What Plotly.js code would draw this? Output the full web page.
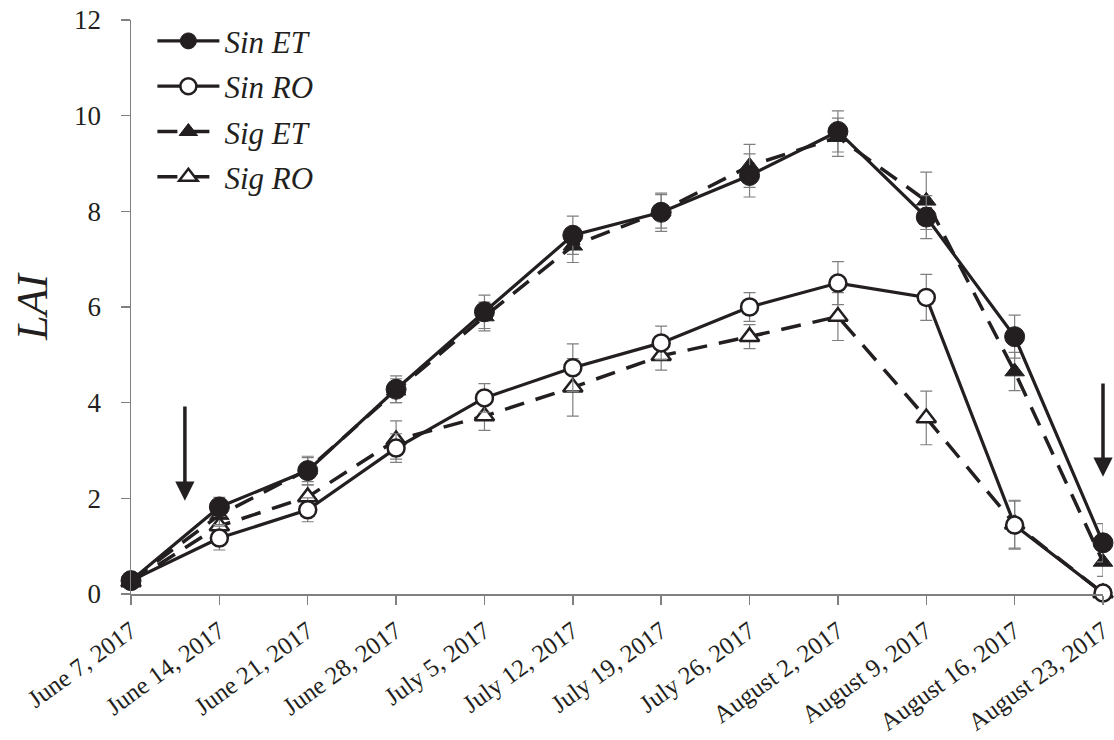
<!DOCTYPE html>
<html>
<head>
<meta charset="utf-8">
<script src="https://cdn.plot.ly/plotly-3.0.1.min.js"></script>
<style>html,body{margin:0;padding:0;background:#fff;}#chart{width:1114px;height:740px;}</style>
</head>
<body>
<div id="chart"></div>
<script>
var dates = ["June 7, 2017","June 14, 2017","June 21, 2017","June 28, 2017","July 5, 2017","July 12, 2017","July 19, 2017","July 26, 2017","August 2, 2017","August 9, 2017","August 16, 2017","August 23, 2017"];
var sinET = [0.28, 1.82, 2.58, 4.28, 5.90, 7.50, 7.98, 8.75, 9.67, 7.88, 5.38, 1.07];
var sinETerr = [0.05, 0.20, 0.30, 0.28, 0.35, 0.40, 0.40, 0.45, 0.43, 0.45, 0.45, 0.40];
var sinRO = [0.28, 1.17, 1.76, 3.05, 4.10, 4.73, 5.25, 6.00, 6.50, 6.20, 1.44, 0.02];
var sinROerr = [0.05, 0.25, 0.25, 0.30, 0.30, 0.50, 0.35, 0.30, 0.45, 0.48, 0.50, 0.05];
var sigET = [0.28, 1.65, 2.60, 4.25, 5.80, 7.28, 8.00, 8.95, 9.55, 8.22, 4.65, 0.67];
var sigETerr = [0.05, 0.20, 0.25, 0.25, 0.30, 0.35, 0.35, 0.45, 0.40, 0.60, 0.40, 0.30];
var sigRO = [0.25, 1.42, 2.03, 3.22, 3.72, 4.32, 4.98, 5.38, 5.80, 3.68, 1.46, 0.02];
var sigROerr = [0.05, 0.20, 0.25, 0.40, 0.30, 0.60, 0.30, 0.25, 0.50, 0.56, 0.50, 0.05];
var arrowsX = [0.61, 11];
var arrowsTop = [3.95, 4.43];
var arrowsTip = [1.95, 2.45];

var ink = '#231f20';
var serif = 'Liberation Serif';
function errBar(arr){return {type:'data', array:arr, visible:true, color:'#7f7f7f', thickness:1.2, width:6};}
var traces = [
  {name:'Sig RO', x:dates, y:sigRO, error_y:errBar(sigROerr), mode:'lines+markers', legendrank:4, legendgroup:'d',
   line:{color:ink, width:3.5, dash:'20px,12px'}, marker:{symbol:'triangle-up', size:17, color:'#fff', line:{color:ink, width:2.5}}},
  {name:'Sig ET', x:dates, y:sigET, error_y:errBar(sigETerr), mode:'lines+markers', legendrank:3, legendgroup:'c',
   line:{color:ink, width:3.5, dash:'20px,12px'}, marker:{symbol:'triangle-up', size:17, color:ink, line:{color:ink, width:1}}},
  {name:'Sin RO', x:dates, y:sinRO, error_y:errBar(sinROerr), mode:'lines+markers', legendrank:2, legendgroup:'b',
   line:{color:ink, width:3.2}, marker:{symbol:'circle', size:17, color:'#fff', line:{color:ink, width:2.5}}},
  {name:'Sin ET', x:dates, y:sinET, error_y:errBar(sinETerr), mode:'lines+markers', legendrank:1, legendgroup:'a',
   line:{color:ink, width:3.2}, marker:{symbol:'circle', size:20, color:ink, line:{color:ink, width:1}}}
];
traces.forEach(function(t){t.cliponaxis=false;});

var annotations = arrowsX.map(function(xv,i){
  return {x:xv, y:arrowsTip[i], ax:xv, ay:arrowsTop[i], xref:'x', yref:'y', axref:'x', ayref:'y',
    showarrow:true, arrowhead:2, arrowsize:1.1, arrowwidth:3.5, arrowcolor:ink, text:''};
});

var layout = {
  width:1114, height:740,
  margin:{l:131, r:11, t:20, b:146},
  paper_bgcolor:'#fff', plot_bgcolor:'#fff',
  font:{family:serif, color:ink},
  showlegend:true,
  legend:{x:0.022, y:1.01, xanchor:'left', yanchor:'top', bgcolor:'rgba(0,0,0,0)', traceorder:'grouped', tracegroupgap:2,
    itemwidth:62, font:{size:31, style:'italic', family:serif, color:ink}},
  xaxis:{type:'category', range:[0,11], showgrid:false, zeroline:false, showline:true, linecolor:'#808080', linewidth:1.5,
    ticks:'outside', ticklen:9, tickcolor:'#808080', tickwidth:1.5, tickangle:-36, ticklabelstandoff:2,
    tickfont:{size:25, family:serif, color:ink}},
  yaxis:{range:[0,12], dtick:2, showgrid:false, zeroline:false, showline:true, linecolor:'#808080', linewidth:1.5,
    ticks:'outside', ticklen:9, tickcolor:'#808080', tickwidth:1.5, ticklabelstandoff:14,
    tickfont:{size:27, family:serif, color:ink},
    title:{text:'LAI', standoff:12, font:{size:44, style:'italic', family:serif, color:ink}}},
  annotations:annotations
};
Plotly.newPlot('chart', traces, layout, {displayModeBar:false, staticPlot:true});
</script>
</body>
</html>
